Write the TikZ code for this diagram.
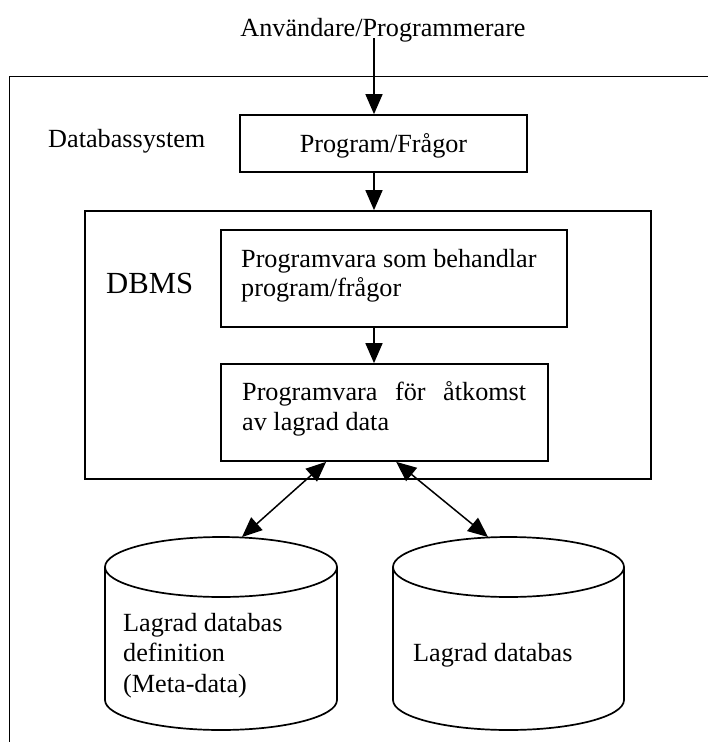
\documentclass[tikz,border=0pt]{standalone}
\usepackage{fontspec}
\setmainfont{Liberation Serif}
\usetikzlibrary{arrows.meta}
\begin{document}
\begin{tikzpicture}[x=1pt,y=-1pt,
  txt/.style={font=\fontsize{26.2}{30}\selectfont, inner sep=0pt, anchor=base west},
  ctxt/.style={font=\fontsize{26.2}{30}\selectfont, inner sep=0pt, anchor=base},
  bigtxt/.style={font=\fontsize{30.7}{34}\selectfont, inner sep=0pt, anchor=base west},
  box/.style={draw, line width=1.7pt, inner sep=0pt},
  wall/.style={line width=1.7pt},
  tip/.tip={Triangle[length=20pt,width=17pt]},
  conn/.style={line width=1.5pt, -tip},
  biconn/.style={line width=1.5pt, tip-tip}]
\useasboundingbox (0,0) rectangle (708,742);
\fill[white] (0,0) rectangle (708,742);

% user on top
\node[ctxt] (user) at (383,36) {Användare/Programmerare};
\coordinate (src) at (374,38);

% outer frame of the database system (runs past the page edge)
\draw[wall] (708,76.5) -- (9.5,76.5) -- (9.5,742);
\node[txt] (sys) at (48,147) {Databassystem};

% programs and queries
\node[box, minimum width=287pt, minimum height=57pt] (prog) at (383.5,143.5) {};
\node[ctxt] (progtxt) at (383.5,152) {Program/Frågor};

% DBMS block
\node[box, minimum width=566pt, minimum height=268pt] (dbms) at (368,345) {};
\node[bigtxt] (dbmstxt) at (106,293) {DBMS};

\node[box, minimum width=346pt, minimum height=97pt] (query) at (394,278.5) {};
\node[txt] (q1) at (241,267) {Programvara som behandlar};
\node[txt] (q2) at (241,296) {program/frågor};

\node[box, minimum width=327pt, minimum height=97pt] (access) at (384.5,412.5) {};
\node[txt] (a1) at (242,400) {\hbox to 284pt{Programvara\hfill för\hfill åtkomst}};
\node[txt] (a2) at (242,430) {av lagrad data};

% stored data: two cylinders
\coordinate (metatop) at (221,537);
\coordinate (datatop) at (508.5,537);
\draw[wall, fill=white] (105,567) -- (105,700) arc[start angle=180, end angle=0, x radius=116, y radius=30] -- (337,567);
\draw[wall] (221,567) ellipse [x radius=116, y radius=30];
\draw[wall, fill=white] (393,567) -- (393,700) arc[start angle=180, end angle=0, x radius=115.5, y radius=30] -- (624,567);
\draw[wall] (508.5,567) ellipse [x radius=115.5, y radius=30];

\node[txt] (m1) at (123,631) {Lagrad databas};
\node[txt] (m2) at (123,661) {definition};
\node[txt] (m3) at (123,692) {(Meta-data)};
\node[txt] (d1) at (413,661) {Lagrad databas};

% connectors
\draw[conn] (src) -- (src |- prog.north);
\draw[conn] (prog.south -| src) -- (dbms.north -| src);
\draw[conn] (query.south -| src) -- (access.north -| src);
\draw[biconn] ([xshift=106pt]access.south west) -- ([xshift=21pt]metatop);
\draw[biconn] ([xshift=176pt]access.south west) -- ([xshift=-20.5pt]datatop);
\end{tikzpicture}
\end{document}
